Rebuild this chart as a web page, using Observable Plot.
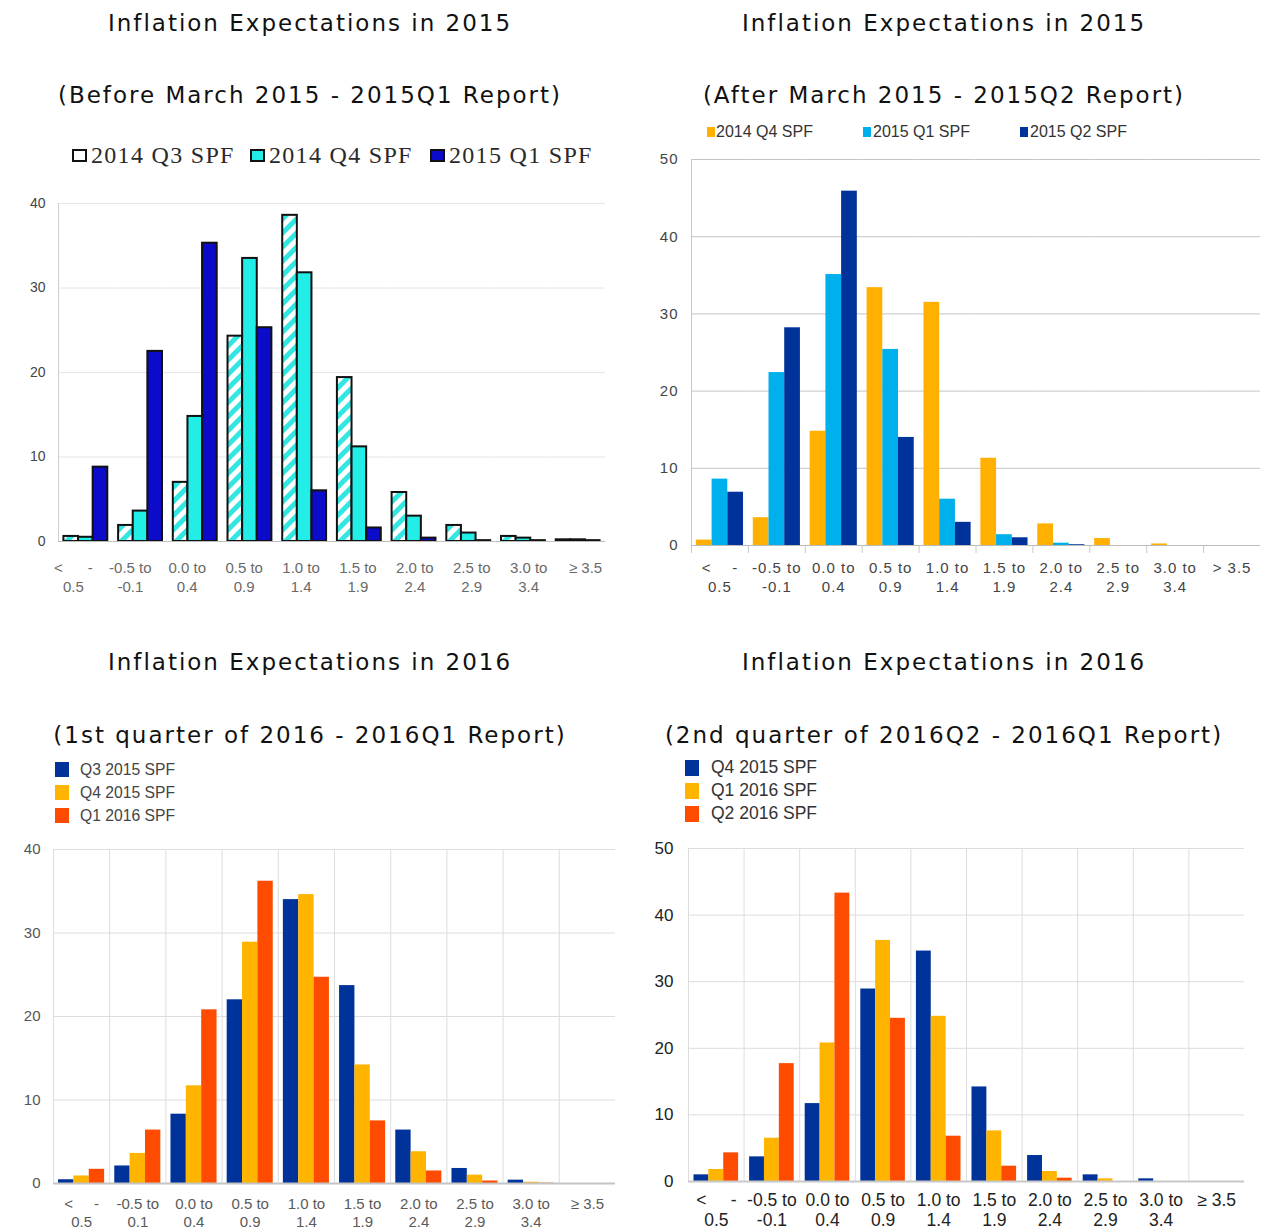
<!DOCTYPE html>
<html>
<head>
<meta charset="utf-8">
<script src="https://cdn.jsdelivr.net/npm/d3@7"></script>
<script src="https://cdn.jsdelivr.net/npm/@observablehq/plot@0.6"></script>
<style>
  html, body { margin: 0; padding: 0; background: #fff; }
  #root { position: relative; width: 1263px; height: 1231px; overflow: hidden; background: #fff; }
  .ttl { position: absolute; font-family: "DejaVu Sans", Verdana, sans-serif; font-size: 23px; line-height: 23px;
         letter-spacing: 2px; color: #111; text-align: center; white-space: nowrap; }
  .plotbox { position: absolute; }
  .plotbox svg { overflow: visible; }
  .lg-sq { position: absolute; box-sizing: border-box; }
  .lg-tx { position: absolute; white-space: nowrap; }
</style>
</head>
<body>
<div id="root"></div>
<script>
// ---------------- DATA ----------------
const categories = ["< -0.5", "-0.5 to -0.1", "0.0 to 0.4", "0.5 to 0.9", "1.0 to 1.4",
                    "1.5 to 1.9", "2.0 to 2.4", "2.5 to 2.9", "3.0 to 3.4", ">= 3.5"];

const nb = n => "\u00a0".repeat(n);
const labelsTL = ["<" + nb(6) + "-\n0.5", "-0.5 to\n-0.1", "0.0 to\n0.4", "0.5 to\n0.9", "1.0 to\n1.4",
                  "1.5 to\n1.9", "2.0 to\n2.4", "2.5 to\n2.9", "3.0 to\n3.4", "≥ 3.5"];
const labelsTR = ["<" + nb(4) + "-\n0.5", "-0.5 to\n-0.1", "0.0 to\n0.4", "0.5 to\n0.9", "1.0 to\n1.4",
                  "1.5 to\n1.9", "2.0 to\n2.4", "2.5 to\n2.9", "3.0 to\n3.4", "> 3.5"];
const labelsBL = ["<" + nb(5) + "-\n0.5", "-0.5 to\n0.1", "0.0 to\n0.4", "0.5 to\n0.9", "1.0 to\n1.4",
                  "1.5 to\n1.9", "2.0 to\n2.4", "2.5 to\n2.9", "3.0 to\n3.4", "≥ 3.5"];
const labelsBR = ["<" + nb(5) + "-\n0.5", "-0.5 to\n-0.1", "0.0 to\n0.4", "0.5 to\n0.9", "1.0 to\n1.4",
                  "1.5 to\n1.9", "2.0 to\n2.4", "2.5 to\n2.9", "3.0 to\n3.4", "≥ 3.5"];

// Panel 1: Before March 2015 - 2015Q1 Report
const seriesTL = ["2014 Q3 SPF", "2014 Q4 SPF", "2015 Q1 SPF"];
const tl_2014Q3 = [0.6, 1.9, 7.0, 24.3, 38.6, 19.4, 5.8, 1.9, 0.6, 0.2];
const tl_2014Q4 = [0.5, 3.6, 14.8, 33.5, 31.8, 11.2, 3.0, 1.0, 0.4, 0.2];
const tl_2015Q1 = [8.8, 22.5, 35.3, 25.3, 6.0, 1.6, 0.4, 0.1, 0.1, 0.1];

// Panel 2: After March 2015 - 2015Q2 Report
const seriesTR = ["2014 Q4 SPF", "2015 Q1 SPF", "2015 Q2 SPF"];
const tr_2014Q4 = [0.7, 3.6, 14.8, 33.4, 31.5, 11.3, 2.8, 0.9, 0.2, 0];
const tr_2015Q1 = [8.6, 22.4, 35.1, 25.4, 6.0, 1.4, 0.3, 0, 0, 0];
const tr_2015Q2 = [6.9, 28.2, 45.9, 14.0, 3.0, 1.0, 0.1, 0, 0, 0];

// Panel 3: 1st quarter of 2016 - 2016Q1 Report
const seriesBL = ["Q3 2015 SPF", "Q4 2015 SPF", "Q1 2016 SPF"];
const bl_2015Q3 = [0.45, 2.1, 8.3, 22.0, 34.0, 23.7, 6.4, 1.8, 0.4, 0];
const bl_2015Q4 = [0.9, 3.6, 11.7, 28.9, 34.6, 14.2, 3.8, 1.0, 0.15, 0];
const bl_2016Q1 = [1.7, 6.4, 20.8, 36.2, 24.7, 7.5, 1.5, 0.3, 0.05, 0];

// Panel 4: 2nd quarter of 2016Q2 - 2016Q1 Report
const seriesBR = ["Q4 2015 SPF", "Q1 2016 SPF", "Q2 2016 SPF"];
const br_2015Q4 = [1.0, 3.7, 11.7, 28.9, 34.6, 14.2, 3.9, 1.0, 0.4, 0];
const br_2016Q1 = [1.8, 6.5, 20.8, 36.2, 24.8, 7.6, 1.5, 0.4, 0, 0];
const br_2016Q2 = [4.3, 17.7, 43.3, 24.5, 6.8, 2.3, 0.5, 0, 0, 0];

const ticksTL = [0, 10, 20, 30, 40];
const ticksTR = [0, 10, 20, 30, 40, 50];
const ticksBL = [0, 10, 20, 30, 40];
const ticksBR = [0, 10, 20, 30, 40, 50];

// ---------------- LAYOUT HELPERS ----------------
const root = document.getElementById("root");

function addTitle(text, left, width, top) {
  const d = document.createElement("div");
  d.className = "ttl";
  d.style.left = left + "px"; d.style.width = width + "px"; d.style.top = top + "px";
  d.textContent = text;
  root.appendChild(d);
}

function addLegend(items, o) {
  items.forEach((it, i) => {
    const sq = document.createElement("div");
    sq.className = "lg-sq";
    sq.style.left = o.sqX[i] + "px"; sq.style.top = o.sqY[i] + "px";
    sq.style.width = o.sqW + "px"; sq.style.height = o.sqH + "px";
    sq.style.background = it.color;
    if (o.border) sq.style.border = o.border;
    root.appendChild(sq);
    const tx = document.createElement("div");
    tx.className = "lg-tx";
    tx.style.left = o.txX[i] + "px"; tx.style.top = (o.txC[i] - o.size / 2) + "px";
    tx.style.fontFamily = o.font; tx.style.fontSize = o.size + "px"; tx.style.lineHeight = o.size + "px";
    tx.style.color = o.textColor; tx.style.letterSpacing = (o.spacing || 0) + "px";
    tx.textContent = it.label;
    root.appendChild(tx);
  });
}

function place(svg, left, top) {
  const box = document.createElement("div");
  box.className = "plotbox";
  box.style.left = left + "px"; box.style.top = top + "px";
  box.appendChild(svg);
  root.appendChild(box);
}

function drawPanel(o) {
  const rows = [];
  categories.forEach((c, i) => o.series.forEach((s, j) => rows.push({cat: c, series: s, value: o.values[j][i]})));
  const labelRows = categories.map((c, i) => ({cat: c, label: o.labels[i]}));
  const ph = o.height - o.marginTop - o.marginBottom;
  const labelFont = "Liberation Sans, Arial, sans-serif";
  const marks = [];
  marks.push(Plot.ruleY(o.ticks.filter(d => d > 0), {stroke: o.gridColor, strokeWidth: 1}));
  if (o.vgrid) {
    marks.push(Plot.frame({anchor: "left", stroke: o.gridColor, strokeOpacity: 1}));
  } else {
    marks.push(Plot.frame({anchor: "left", facetAnchor: "left", stroke: o.axisColor, strokeOpacity: 1}));
  }
  if (o.catTicks) {
    marks.push(Plot.frame({anchor: "left", stroke: o.axisColor, strokeOpacity: 1, insetTop: ph, insetBottom: -7}));
  }
  marks.push(Plot.barY(rows, {fx: "cat", x: "series", y: "value", fill: "series",
    stroke: o.barStroke || "none", strokeWidth: o.barStrokeWidth || 0}));
  marks.push(Plot.ruleY([0], {stroke: o.baseColor, strokeWidth: o.baseWidth}));
  if (!o.labelBand) {
    marks.push(Plot.text(labelRows, {fx: "cat", text: "label", frameAnchor: "bottom", lineAnchor: "top",
      dy: o.labelDy, fontSize: o.labelSize, lineHeight: o.labelLH, fill: o.labelColor, fontFamily: labelFont}));
  }

  const svg = Plot.plot({
    width: o.width, height: o.height,
    marginLeft: o.marginLeft, marginRight: o.marginRight, marginTop: o.marginTop, marginBottom: o.marginBottom,
    style: {fontFamily: labelFont, fontSize: o.tickSize + "px", color: o.tickColor,
            background: "transparent", overflow: "visible", letterSpacing: (o.tickSpacing || 0) + "px"},
    fx: {domain: categories, padding: 0, round: false, axis: null},
    x: {domain: o.series, axis: null, paddingInner: 0, paddingOuter: o.barPad, align: 0.5, round: false},
    y: {domain: [o.ticks[0], o.ticks[o.ticks.length - 1]], ticks: o.ticks, tickSize: 0, tickPadding: o.tickPadding,
        label: null, axis: "left"},
    color: {type: "ordinal", domain: o.series, range: o.colors},
    marks
  });
  if (o.defs) {
    const defs = document.createElementNS("http://www.w3.org/2000/svg", "defs");
    defs.innerHTML = o.defs;
    svg.insertBefore(defs, svg.firstChild);
  }
  place(svg, o.left, o.top);

  // Category labels drawn on their own band scale (the source image's labels are spaced
  // slightly wider than its bar groups)
  if (o.labelBand) {
    const lab = Plot.plot({
      width: o.width, height: 50,
      marginLeft: o.labelBand[0], marginRight: o.width - o.labelBand[1], marginTop: 0, marginBottom: 0,
      style: {fontFamily: labelFont, background: "transparent", overflow: "visible"},
      x: {type: "band", domain: categories, padding: 0, round: false, axis: null},
      marks: [Plot.text(labelRows, {x: "cat", text: "label", frameAnchor: "top", lineAnchor: "top",
        dy: o.labelDy, fontSize: o.labelSize, lineHeight: o.labelLH, fill: o.labelColor})]
    });
    place(lab, o.left, o.top + o.height - o.marginBottom);
  }
}

// ---------------- TITLES ----------------
addTitle("Inflation Expectations in 2015", 0, 620, 12);
addTitle("(Before March 2015 - 2015Q1 Report)", 0, 620, 84);
addTitle("Inflation Expectations in 2015", 633, 622, 12);
addTitle("(After March 2015 - 2015Q2 Report)", 633, 622, 84);
addTitle("Inflation Expectations in 2016", 0, 620, 651);
addTitle("(1st quarter of 2016 - 2016Q1 Report)", 0, 620, 724);
addTitle("Inflation Expectations in 2016", 633, 622, 651);
addTitle("(2nd quarter of 2016Q2 - 2016Q1 Report)", 633, 622, 724);

// ---------------- PANEL 1 ----------------
const colorsTL = ["url(#hatchTL)", "#22EDE7", "#0B0BC9"];
addLegend(seriesTL.map((s, i) => ({label: s, color: i === 0 ? "#ffffff" : colorsTL[i]})), {
  sqX: [72, 250, 430], sqY: [149, 149, 149], sqW: 15, sqH: 13, border: "2.5px solid #111",
  txX: [91, 269, 449], txC: [155, 155, 155], font: "Liberation Serif, 'Times New Roman', serif",
  size: 24, spacing: 1.3, textColor: "#2a2a2a"
});
drawPanel({
  left: 0, top: 180, width: 620, height: 420,
  marginLeft: 58, marginRight: 15, marginTop: 23, marginBottom: 59,
  series: seriesTL, values: [tl_2014Q3, tl_2014Q4, tl_2015Q1], labels: labelsTL, ticks: ticksTL,
  colors: colorsTL, barPad: 0.37, barStroke: "#111", barStrokeWidth: 2,
  gridColor: "#e6e6e6", axisColor: "#cfcfcf", baseColor: "#bdbdbd", baseWidth: 1,
  tickSize: 14, tickColor: "#444", tickPadding: 13,
  labelBand: [44.5, 613.5],
  labelDy: 18, labelSize: 15, labelLH: 1.27, labelColor: "#6a6a6a",
  defs: '<pattern id="hatchTL" patternUnits="userSpaceOnUse" width="10" height="10" patternTransform="rotate(45)">' +
        '<rect width="10" height="10" fill="#ffffff"/><rect width="5" height="10" fill="#33E6E2"/></pattern>'
});

// ---------------- PANEL 2 ----------------
const colorsTR = ["#FFB000", "#00B0EC", "#003399"];
addLegend(seriesTR.map((s, i) => ({label: s, color: colorsTR[i]})), {
  sqX: [707, 863, 1020], sqY: [127, 127, 127], sqW: 8, sqH: 10,
  txX: [716, 873, 1030], txC: [132, 132, 132], font: "Liberation Sans, Arial, sans-serif",
  size: 16, spacing: 0, textColor: "#333"
});
drawPanel({
  left: 630, top: 140, width: 633, height: 460,
  marginLeft: 61, marginRight: 3, marginTop: 19, marginBottom: 55,
  series: seriesTR, values: [tr_2014Q4, tr_2015Q1, tr_2015Q2], labels: labelsTR, ticks: ticksTR,
  colors: colorsTR, barPad: 0.31,
  gridColor: "#c4c4c4", axisColor: "#c8c8c8", baseColor: "#bbbbbb", baseWidth: 1, catTicks: true,
  tickSize: 15, tickColor: "#444", tickPadding: 13, tickSpacing: 1,
  labelDy: 14, labelSize: 15, labelLH: 1.27, labelColor: "#444"
});

// ---------------- PANEL 3 ----------------
const colorsBL = ["#003399", "#FFB400", "#FF4B00"];
addLegend(seriesBL.map((s, i) => ({label: s, color: colorsBL[i]})), {
  sqX: [55, 55, 55], sqY: [762, 785, 808], sqW: 14, sqH: 15,
  txX: [80, 80, 80], txC: [770, 793, 816], font: "Liberation Sans, Arial, sans-serif",
  size: 15.7, spacing: 0, textColor: "#444"
});
drawPanel({
  left: 0, top: 830, width: 630, height: 401,
  marginLeft: 53, marginRight: 15, marginTop: 19, marginBottom: 48,
  series: seriesBL, values: [bl_2015Q3, bl_2015Q4, bl_2016Q1], labels: labelsBL, ticks: ticksBL,
  colors: colorsBL, barPad: 0.33, vgrid: true,
  gridColor: "#dddddd", axisColor: "#cccccc", baseColor: "#c4c4c4", baseWidth: 2,
  tickSize: 15, tickColor: "#555", tickPadding: 13,
  labelDy: 13, labelSize: 15, labelLH: 1.2, labelColor: "#5a5a5a"
});

// ---------------- PANEL 4 ----------------
const colorsBR = ["#003399", "#FFB400", "#FF4B00"];
addLegend(seriesBR.map((s, i) => ({label: s, color: colorsBR[i]})), {
  sqX: [685, 685, 685], sqY: [760, 783, 806], sqW: 14, sqH: 16,
  txX: [711, 711, 711], txC: [768, 791, 814], font: "Liberation Sans, Arial, sans-serif",
  size: 17.5, spacing: 0, textColor: "#333"
});
drawPanel({
  left: 630, top: 830, width: 633, height: 401,
  marginLeft: 58, marginRight: 19, marginTop: 18, marginBottom: 50,
  series: seriesBR, values: [br_2015Q4, br_2016Q1, br_2016Q2], labels: labelsBR, ticks: ticksBR,
  colors: colorsBR, barPad: 0.37, vgrid: true,
  gridColor: "#dddddd", axisColor: "#cccccc", baseColor: "#c8c8c8", baseWidth: 2,
  tickSize: 17, tickColor: "#222", tickPadding: 15,
  labelDy: 10, labelSize: 17.5, labelLH: 1.15, labelColor: "#222"
});
</script>
</body>
</html>
